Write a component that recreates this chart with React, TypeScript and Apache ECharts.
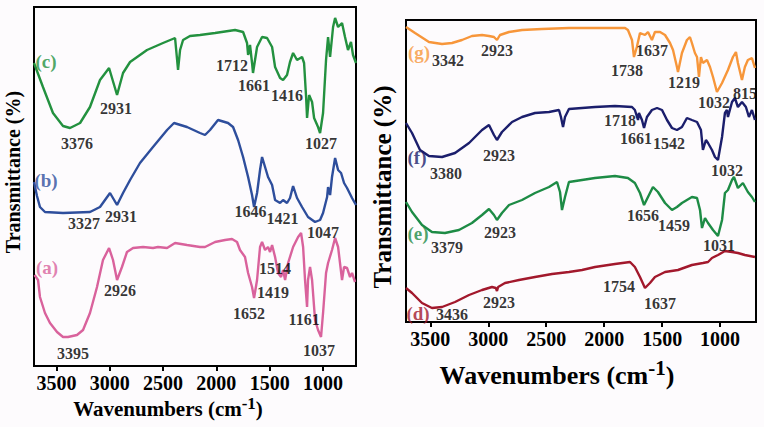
import React, { useEffect, useRef } from 'react';
import * as echarts from 'echarts';

const FONT = '"Liberation Serif", "Times New Roman", Times, serif';

const TICKS = [1000, 1500, 2000, 2500, 3000, 3500];

// ---- Left panel spectra: [wavenumber, transmittance (arb.)] ----
const specC: [number, number][] = [
  [3710, 303], [3626, 279], [3532, 253], [3438, 240], [3372, 238], [3278, 243], [3185, 259], [3091, 286],
  [3006, 298], [2931, 271], [2875, 293], [2809, 304], [2650, 316], [2500, 323], [2387, 328], [2359, 296],
  [2340, 316], [2312, 326], [2247, 330], [2153, 331], [2012, 333], [1824, 336], [1749, 334], [1712, 323],
  [1702, 311], [1684, 321], [1665, 303], [1656, 293], [1618, 319], [1571, 329], [1524, 328], [1477, 319],
  [1449, 299], [1402, 288], [1374, 286], [1337, 291], [1309, 304], [1280, 313], [1243, 306], [1196, 309],
  [1177, 303], [1158, 269], [1149, 248], [1130, 271], [1102, 264], [1083, 248], [1046, 239], [1027, 233],
  [999, 253], [971, 306], [952, 329], [933, 309], [905, 339], [886, 348], [858, 339], [821, 343],
  [793, 329], [765, 316], [737, 324], [718, 311], [690, 303],
];

const specB: [number, number][] = [
  [3710, 184], [3682, 170], [3654, 159], [3607, 154], [3438, 153], [3185, 154], [3091, 159], [2997, 173],
  [2931, 161], [2875, 173], [2809, 186], [2716, 203], [2594, 219], [2462, 236], [2397, 243], [2275, 239],
  [2153, 233], [2106, 231], [2059, 236], [1984, 246], [1890, 243], [1843, 239], [1796, 226], [1749, 209],
  [1702, 189], [1665, 171], [1646, 159], [1618, 173], [1590, 196], [1571, 209], [1543, 199], [1515, 189],
  [1477, 181], [1449, 166], [1402, 163], [1374, 166], [1337, 163], [1309, 168], [1280, 180], [1243, 168],
  [1196, 159], [1140, 149], [1074, 144], [1027, 146], [999, 153], [961, 169], [952, 179], [933, 171],
  [915, 189], [886, 208], [858, 196], [830, 193], [802, 183], [774, 178], [727, 168], [690, 161],
];

const specA: [number, number][] = [
  [3705, 91], [3672, 86], [3654, 69], [3607, 53], [3560, 43], [3494, 34], [3438, 29], [3391, 29],
  [3307, 31], [3250, 36], [3185, 53], [3119, 79], [3063, 106], [3006, 118], [2969, 106], [2931, 86],
  [2885, 99], [2838, 114], [2781, 118], [2687, 119], [2594, 118], [2547, 119], [2462, 118], [2387, 123],
  [2275, 121], [2153, 119], [2106, 119], [2012, 124], [1918, 126], [1853, 127], [1806, 124], [1778, 116],
  [1731, 109], [1702, 93], [1665, 79], [1646, 68], [1618, 86], [1590, 119], [1571, 124], [1543, 116],
  [1515, 119], [1496, 114], [1477, 121], [1449, 109], [1421, 93], [1393, 89], [1374, 96], [1355, 86],
  [1327, 103], [1280, 119], [1233, 129], [1205, 133], [1186, 119], [1168, 86], [1149, 59], [1140, 86],
  [1121, 99], [1102, 86], [1074, 46], [1046, 36], [1018, 29], [999, 53], [971, 93], [952, 103],
  [915, 116], [886, 128], [858, 119], [821, 86], [802, 99], [774, 98], [746, 89], [727, 93], [699, 84],
];

// ---- Right panel spectra ----
const specG: [number, number][] = [
  [3710, 295], [3632, 289], [3512, 280], [3399, 278], [3313, 279], [3227, 282], [3141, 286], [3054, 287],
  [2994, 286], [2951, 285], [2925, 282], [2899, 287], [2821, 290], [2709, 292], [2537, 293], [2304, 294],
  [2019, 294], [1820, 294], [1795, 292], [1760, 282], [1743, 265], [1718, 275], [1691, 289], [1648, 287],
  [1622, 290], [1588, 282], [1562, 290], [1518, 290], [1475, 287], [1432, 279], [1406, 272], [1372, 255],
  [1363, 250], [1329, 269], [1286, 282], [1260, 285], [1243, 279], [1217, 269], [1199, 265], [1182, 245],
  [1165, 265], [1148, 259], [1113, 262], [1087, 255], [1061, 245], [1027, 230], [983, 239], [932, 252],
  [889, 265], [863, 270], [846, 259], [811, 242], [786, 255], [760, 262], [725, 264], [699, 254],
];

const specF: [number, number][] = [
  [3710, 199], [3658, 189], [3589, 172], [3512, 166], [3399, 165], [3287, 169], [3166, 179], [3054, 192],
  [2994, 197], [2951, 187], [2925, 182], [2882, 190], [2795, 200], [2709, 205], [2597, 209], [2476, 210],
  [2390, 212], [2373, 205], [2355, 195], [2338, 205], [2304, 213], [2191, 214], [2079, 215], [1907, 216],
  [1760, 215], [1735, 212], [1708, 202], [1700, 209], [1674, 202], [1656, 194], [1631, 205], [1588, 212],
  [1544, 214], [1501, 212], [1458, 202], [1415, 194], [1372, 192], [1329, 195], [1286, 204], [1243, 202],
  [1199, 200], [1165, 192], [1148, 172], [1122, 182], [1104, 179], [1070, 172], [1044, 165], [1018, 162],
  [983, 185], [958, 209], [941, 212], [932, 205], [897, 220], [872, 224], [846, 215], [811, 220],
  [777, 215], [751, 205], [725, 212], [699, 202],
];

const specE: [number, number][] = [
  [3710, 120], [3658, 110], [3572, 97], [3486, 90], [3374, 89], [3253, 92], [3141, 99], [3054, 107],
  [2994, 113], [2951, 107], [2925, 102], [2882, 109], [2821, 117], [2709, 122], [2597, 129], [2476, 135],
  [2407, 140], [2381, 130], [2364, 112], [2338, 125], [2304, 140], [2191, 142], [2079, 144], [1907, 146],
  [1795, 144], [1735, 139], [1691, 129], [1656, 117], [1622, 125], [1579, 135], [1536, 130], [1475, 119],
  [1415, 112], [1372, 115], [1329, 119], [1286, 122], [1243, 125], [1199, 124], [1173, 112], [1156, 94],
  [1130, 104], [1104, 99], [1061, 92], [1018, 86], [983, 102], [958, 129], [932, 132], [897, 142],
  [880, 145], [846, 134], [803, 139], [760, 130], [725, 125], [699, 120],
];

const specD: [number, number][] = [
  [3710, 34], [3658, 29], [3572, 19], [3486, 14], [3399, 15], [3287, 20], [3166, 27], [3054, 32],
  [2968, 35], [2935, 34], [2925, 31], [2915, 35], [2856, 39], [2735, 42], [2597, 45], [2450, 48],
  [2304, 50], [2191, 52], [2079, 55], [1907, 58], [1777, 60], [1735, 55], [1691, 45], [1648, 34],
  [1605, 39], [1562, 45], [1475, 50], [1363, 52], [1243, 57], [1148, 59], [1104, 60], [1070, 64],
  [1018, 67], [958, 71], [897, 70], [846, 69], [786, 67], [699, 65],
];

// ---- Peak annotations: [text, wavenumber, transmittance] ----
const notesLeft: [string, number, number][] = [
  ['2931', 2941, 258], ['3376', 3307, 223], ['1712', 1853, 301], ['1661', 1646, 281], ['1416', 1337, 271],
  ['1027', 1018, 223], ['1646', 1680, 155], ['1421', 1380, 148], ['3327', 3241, 143], ['2931', 2894, 150],
  ['1047', 999, 134], ['2926', 2903, 76], ['1514', 1449, 98], ['1419', 1468, 74], ['1652', 1693, 53],
  ['1161', 1177, 47], ['1037', 1036, 16], ['3395', 3344, 13],
];
const notesRight: [string, number, number][] = [
  ['3342', 3348, 262], ['2923', 2925, 272], ['1738', 1803, 252], ['1637', 1588, 272], ['1219', 1311, 240],
  ['1032', 1053, 220], ['815', 785, 229], ['1718', 1864, 202], ['1661', 1725, 184], ['1542', 1441, 179],
  ['2923', 2908, 167], ['3380', 3365, 149], ['1032', 940, 152], ['1656', 1665, 107], ['1459', 1398, 97],
  ['2923', 2899, 90], ['3379', 3356, 75], ['1031', 1009, 77], ['1754', 1872, 36], ['2923', 2908, 20],
  ['1637', 1518, 19], ['3436', 3313, 8],
];
// curve letters: [text, wavenumber, transmittance]
const lettersLeft: [string, number, number][] = [['(c)', 3597, 305], ['(b)', 3597, 186], ['(a)', 3588, 99]];
const lettersRight: [string, number, number][] = [['(g)', 3598, 270], ['(f)', 3615, 165], ['(e)', 3606, 89], ['(d)', 3606, 9]];

const COLORS = {
  a: '#d9629c', b: '#2e4e9c', c: '#23913f',
  d: '#a2182c', e: '#1d8b45', f: '#1b1e6c', g: '#f7963a',
};

export default function App() {
  const ref = useRef<HTMLDivElement>(null);
  useEffect(() => {
    if (!ref.current) return;
    const chart = echarts.init(ref.current, undefined, { renderer: 'svg' });

    const mkX = (gi: number) => ({
      type: 'value', gridIndex: gi, inverse: true, min: 690, max: 3710,
      axisLine: { show: true, onZero: false, lineStyle: { color: '#000', width: 2 } },
      axisTick: { show: true, inside: false, length: 5, customValues: TICKS, lineStyle: { color: '#000', width: 2 } },
      axisLabel: {
        customValues: TICKS, formatter: (v: number) => String(v),
        fontSize: 20, fontWeight: 'bold', fontFamily: FONT, color: '#000', margin: 7,
      },
      splitLine: { show: false },
    });
    const line = (data: [number, number][], color: string, gi: number) => ({
      type: 'line', xAxisIndex: gi, yAxisIndex: gi, data, showSymbol: false, symbol: 'none',
      lineStyle: { color, width: 2.4 }, silent: true, z: 2,
    });
    const notes = (items: [string, number, number][], gi: number, colors?: string[]) => ({
      type: 'scatter', xAxisIndex: gi, yAxisIndex: gi, symbolSize: 0, silent: true, clip: false, z: 5,
      data: items.map((d, i) => ({
        value: [d[1], d[2], d[0]],
        label: colors ? { color: colors[i], fontSize: 19 } : undefined,
      })),
      label: {
        show: true, position: 'inside', formatter: (p: any) => p.value[2],
        fontFamily: FONT, fontWeight: 'bold', fontSize: 16, color: '#000',
      },
    });

    const title = (x: number, y: number, size: number, sup: number, rot: number, rich: boolean) => ({
      type: 'text', x, y, rotation: rot,
      style: rich
        ? {
            text: '{a|Wavenumbers (cm}{b|-1}{a|)}',
            align: 'center', verticalAlign: 'middle',
            rich: {
              a: { fontFamily: FONT, fontWeight: 'bold', fontSize: size, fill: '#000', lineHeight: Math.round(size * 1.4) },
              b: { fontFamily: FONT, fontWeight: 'bold', fontSize: sup, fill: '#000', verticalAlign: 'top', lineHeight: Math.round(size * 1.4) },
            },
          }
        : {
            text: 'Transmittance (%)', align: 'center', verticalAlign: 'middle',
            font: `bold ${size}px ${FONT}`, fill: '#000',
          },
    });

    chart.setOption({
      animation: false,
      backgroundColor: '#fdfbfd',
      grid: [
        { left: 34, top: 7, width: 322, height: 359, show: true, borderColor: '#000', borderWidth: 2, backgroundColor: 'transparent' },
        { left: 406, top: 20, width: 350, height: 302, show: true, borderColor: '#000', borderWidth: 2, backgroundColor: 'transparent' },
      ],
      xAxis: [mkX(0), mkX(1)],
      yAxis: [
        { type: 'value', gridIndex: 0, min: 0, max: 359, show: false, splitLine: { show: false } },
        { type: 'value', gridIndex: 1, min: 0, max: 302, show: false, splitLine: { show: false } },
      ],
      series: [
        line(specC, COLORS.c, 0), line(specB, COLORS.b, 0), line(specA, COLORS.a, 0),
        line(specG, COLORS.g, 1), line(specF, COLORS.f, 1), line(specE, COLORS.e, 1), line(specD, COLORS.d, 1),
        notes(notesLeft, 0), notes(notesRight, 1),
        notes(lettersLeft, 0, [COLORS.c, COLORS.b, COLORS.a]),
        notes(lettersRight, 1, [COLORS.g, COLORS.f, COLORS.e, COLORS.d]),
      ],
      graphic: [
        title(168, 409, 21, 17, 0, true),
        title(557, 375, 26, 21, 0, true),
        title(13, 172, 20, 0, Math.PI / 2, false),
        title(382, 187, 25, 0, Math.PI / 2, false),
      ],
    });
    return () => chart.dispose();
  }, []);
  return (
    <div
      ref={ref}
      style={{ position: 'absolute', left: 0, top: 0, width: 764, height: 427 }}
    />
  );
}
